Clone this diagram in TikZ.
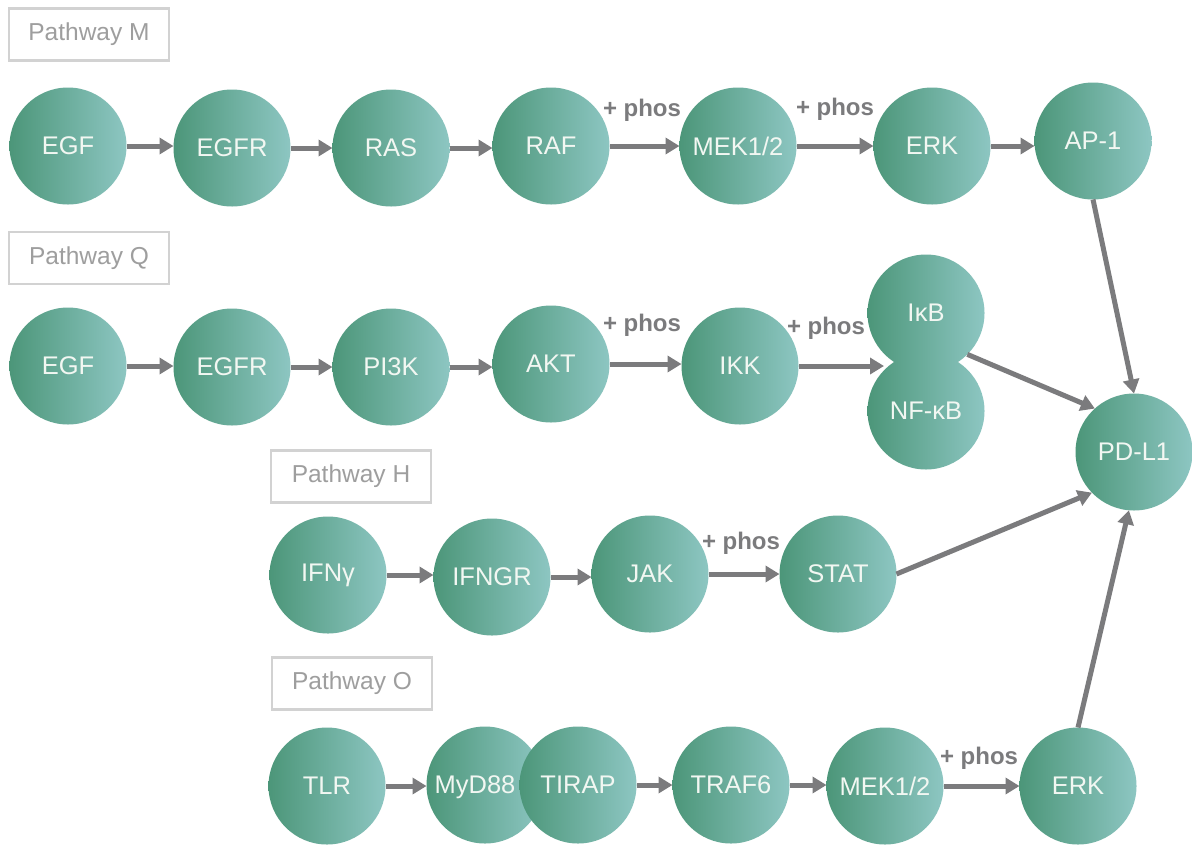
\documentclass[tikz,border=0pt]{standalone}
\usepackage{fontspec}
\setmainfont{Liberation Sans}
\usetikzlibrary{arrows.meta,shapes.geometric}
\definecolor{gleft}{HTML}{4C9679}
\definecolor{gright}{HTML}{8DC6C2}
\definecolor{arrowgray}{HTML}{7B7B7D}
\definecolor{boxline}{HTML}{D2D2D2}
\definecolor{boxtext}{HTML}{9E9E9E}
\definecolor{nodetext}{HTML}{F2F7F2}
\tikzset{
  mol/.style={circle, minimum size=117pt, inner sep=0pt, outer sep=0pt,
    left color=gleft, right color=gright, draw=none,
    text=nodetext, font=\fontsize{25.5}{30}\selectfont},
  moltext/.style={text=nodetext, font=\fontsize{25.5}{30}\selectfont, inner sep=0pt},
  pwbox/.style={draw=boxline, line width=2.5pt, minimum width=160pt, minimum height=52pt,
    inner sep=0pt, text=boxtext, font=\fontsize{24.5}{30}\selectfont},
  conn/.style={draw=arrowgray, line width=5pt, -{Triangle[length=14pt,width=16pt]}},
  phos/.style={text=arrowgray, font=\fontsize{24}{30}\selectfont\bfseries, inner sep=0pt}
}
\begin{document}
\begin{tikzpicture}[x=1pt,y=-1pt]
\useasboundingbox[fill=white] (0,0) rectangle (1198,844);

% Pathway labels
\node[pwbox] (pM) at (89,34.5) {Pathway M};
\node[pwbox] (pQ) at (89,258) {Pathway Q};
\node[pwbox] (pH) at (351,476.5) {Pathway H};
\node[pwbox] (pO) at (352,683.5) {Pathway O};

% Row M
\node[mol] (mEGF)  at (68,146)   {EGF};
\node[mol] (mEGFR) at (232,148)  {EGFR};
\node[mol] (mRAS)  at (391,148)  {RAS};
\node[mol] (mRAF)  at (551,146)  {RAF};
\node[mol] (mMEK)  at (738,146)  {MEK1/2};
\node[mol] (mERK)  at (932,146)  {ERK};
\node[mol] (mAP)   at (1093,141) {AP-1};

% Row Q
\node[mol] (qEGF)  at (68,366)   {EGF};
\node[mol] (qEGFR) at (232,367)  {EGFR};
\node[mol] (qPI)   at (391,367)  {PI3K};
\node[mol] (qAKT)  at (551,364)  {AKT};
\node[mol] (qIKK)  at (740,366)  {IKK};
\node[mol] (qIkB)  at (926,313)  {I\kern0.5pt κB};
\node[mol] (qNF)   at (926,411)  {NF-κB};
\node[mol] (PDL)   at (1134,452) {PD-L1};

% Row H
\node[mol] (hIFN)  at (328,575)  {IFNγ};
\node[mol] (hIFNGR) at (492,577) {IFNGR};
\node[mol] (hJAK)  at (650,574)  {JAK};
\node[mol] (hSTAT) at (838,574)  {STAT};

% Row O
\node[mol] (oTLR)  at (327,786)  {TLR};
\node[mol] (oMyD)  at (485,785)  {};
\node[mol] (oTIR)  at (578,785)  {TIRAP};
\node[mol] (oTRAF) at (731,785)  {TRAF6};
\node[mol] (oMEK)  at (885,786)  {MEK1/2};
\node[mol] (oERK)  at (1078,786) {ERK};
% MyD88 label stays on top of the overlapping TIRAP circle
\node[moltext, anchor=base] (oMyDt) at ([xshift=-10pt]oMyD.center |- oTIR.base) {MyD88};

\coordinate (pinch) at (884,366);

% Arrows row M
\draw[conn] (mEGF.east) -- (mEGF.east -| mEGFR.west);
\draw[conn] (mEGFR.east) -- (mEGFR.east -| mRAS.west);
\draw[conn] (mRAS.east) -- (mRAS.east -| mRAF.west);
\draw[conn] (mRAF.east) -- (mRAF.east -| mMEK.west);
\draw[conn] (mMEK.east) -- (mMEK.east -| mERK.west);
\draw[conn] (mERK.east) -- (mERK.east -| mAP.west);
\draw[conn] (mAP.south) -- (PDL.north);

% Arrows row Q
\draw[conn] (qEGF.east) -- (qEGF.east -| qEGFR.west);
\draw[conn] (qEGFR.east) -- (qEGFR.east -| qPI.west);
\draw[conn] (qPI.east) -- (qPI.east -| qAKT.west);
\draw[conn] (qAKT.east) -- (qAKT.east -| qIKK.west);
\draw[conn] (qIKK.east) -- (pinch);
\draw[conn] (qIkB.-45) -- (PDL.132);

% Arrows row H
\draw[conn] (hIFN.east) -- (hIFN.east -| hIFNGR.west);
\draw[conn] (hIFNGR.east) -- (hIFNGR.east -| hJAK.west);
\draw[conn] (hJAK.east) -- (hJAK.east -| hSTAT.west);
\draw[conn] (hSTAT.east) -- (PDL.224);

% Arrows row O
\draw[conn] (oTLR.east) -- (oTLR.east -| oMyD.west);
\draw[conn] (oTIR.east) -- (oTIR.east -| oTRAF.west);
\draw[conn] (oTRAF.east) -- (oTRAF.east -| oMEK.west);
\draw[conn] (oMEK.east) -- (oMEK.east -| oERK.west);
\draw[conn] (oERK.north) -- (PDL.265);

% phos labels
\node[phos] (ph1) at (642,110) {+ phos};
\node[phos] (ph2) at (835,109) {+ phos};
\node[phos] (ph3) at (642,325) {+ phos};
\node[phos] (ph4) at (826,328) {+ phos};
\node[phos] (ph5) at (741,543) {+ phos};
\node[phos] (ph6) at (979,758) {+ phos};
\end{tikzpicture}
\end{document}
